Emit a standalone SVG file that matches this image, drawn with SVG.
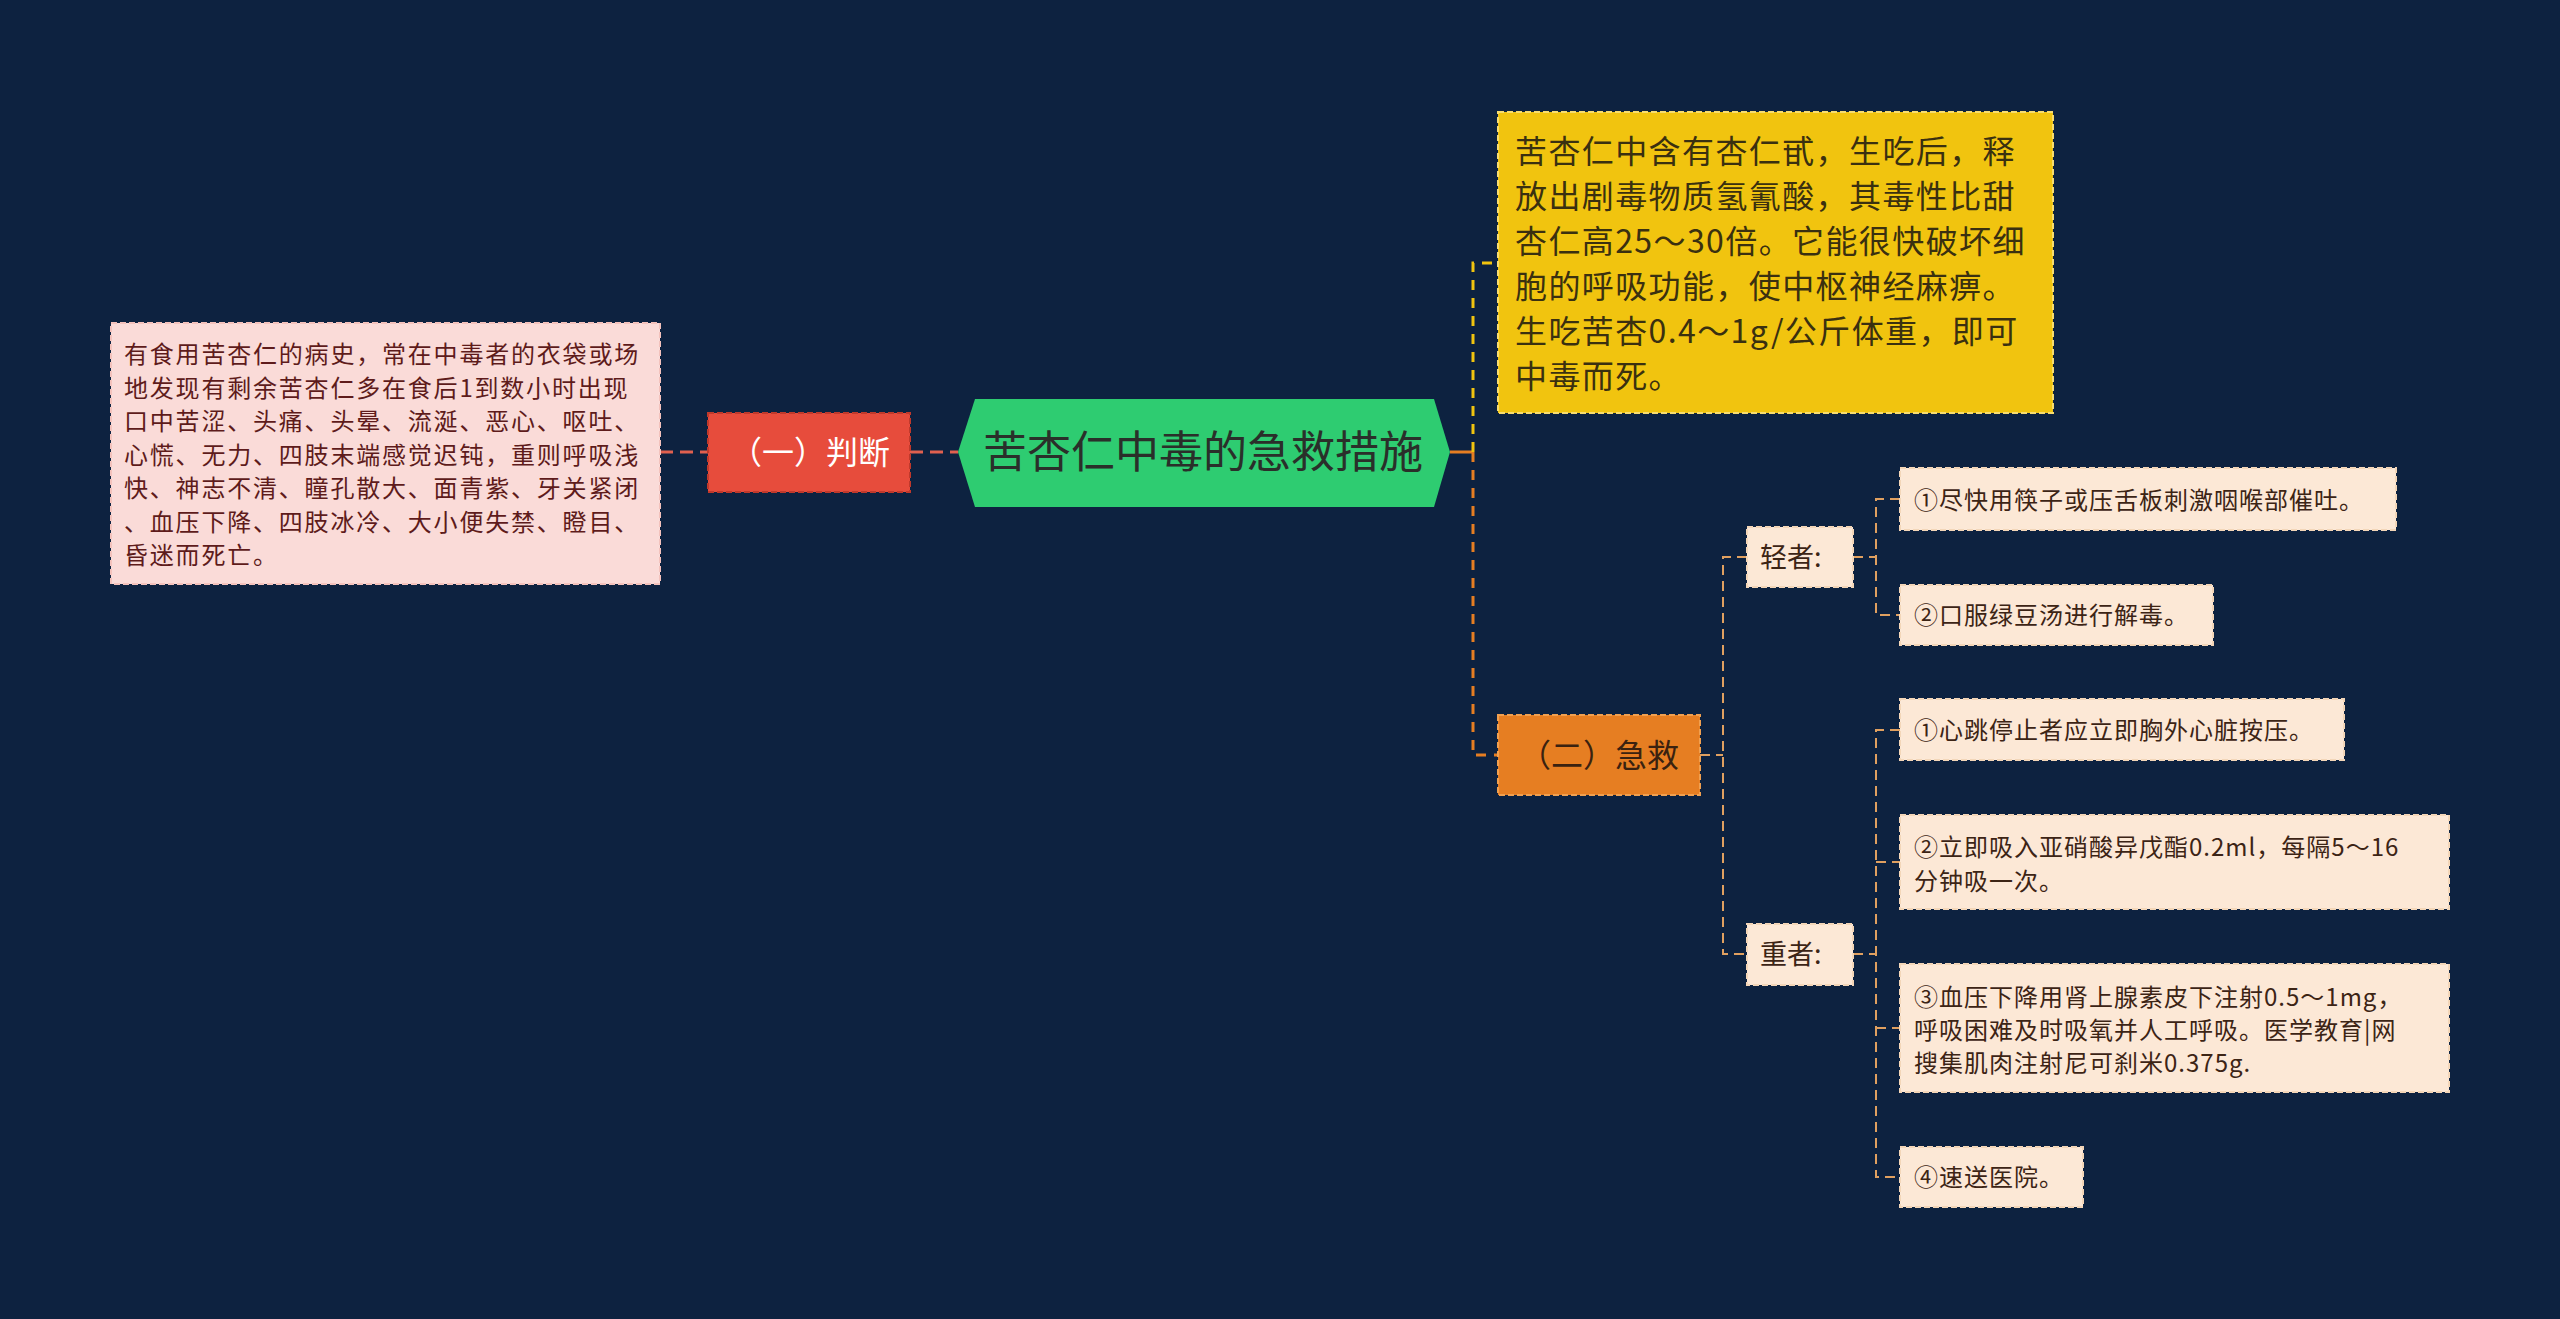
<svg xmlns="http://www.w3.org/2000/svg" width="2560" height="1319" viewBox="0 0 2560 1319">
<style>
text{font-family:"Noto Sans CJK SC","Noto Sans",sans-serif;}
.bg{fill:#0d2240;}
.pink{fill:#fadbd8;stroke:#f3c2bc;stroke-width:2;stroke-dasharray:6 3;}
.red{fill:#e74c3c;stroke:#c0392b;stroke-width:2;stroke-dasharray:6 3;}
.yel{fill:#f1c40f;stroke:#f7dc6f;stroke-width:2;stroke-dasharray:6 3;}
.org{fill:#e67e22;stroke:#f0a050;stroke-width:2;stroke-dasharray:6 3;}
.item{fill:#fce8d6;stroke:#f3d6b8;stroke-width:2;stroke-dasharray:6 3;}
.hex{fill:#2ecc71;}
.tl{font-size:24px;letter-spacing:1.8px;fill:#5e1b1b;}
.ty{font-size:32px;letter-spacing:1.4px;fill:#3a3010;}
.ti{font-size:24px;letter-spacing:1px;fill:#3c2415;}
.tk{font-size:27px;fill:#3c2415;}
.cr{fill:none;stroke:#e0604f;stroke-width:3;stroke-dasharray:13 7;}
.cy{fill:none;stroke:#f1c40f;stroke-width:3;stroke-dasharray:10 8;}
.co{fill:none;stroke:#e67e22;stroke-width:3;stroke-dasharray:10 8;}
.cs{fill:none;stroke:#e0a060;stroke-width:2;stroke-dasharray:10 6;}
</style>
<rect class="bg" x="0" y="0" width="2560" height="1319"/>
<g id="connectors">
  <path class="cr" d="M660,452 H708"/>
  <path class="cr" d="M910,452 H958"/>
  <path d="M1450,452 H1473" fill="none" stroke="#e67e22" stroke-width="3"/>
  <path class="cy" d="M1473,452 V263 H1498"/>
  <path class="co" d="M1473,452 V755 H1498"/>
  <path class="cs" d="M1700,755 H1723"/>
  <path class="cs" d="M1747,557 H1723 V954 H1747"/>
  <path class="cs" d="M1853,557 H1876"/>
  <path class="cs" d="M1900,499 H1876 V615 H1900"/>
  <path class="cs" d="M1853,954 H1876"/>
  <path class="cs" d="M1900,730 H1876 V1177 H1900"/>
  <path class="cs" d="M1876,862 H1900"/>
  <path class="cs" d="M1876,1028 H1900"/>
</g>
<g id="root">
  <polygon class="hex" points="958,452 975,399 1434,399 1450,452 1434,507 975,507"/>
  <text x="1203" y="468" font-size="44" fill="#2a2f2a" text-anchor="middle">苦杏仁中毒的急救措施</text>
</g>
<g id="judge">
  <rect class="red" x="708" y="413" width="202" height="79"/>
  <text x="810" y="464" font-size="32" fill="#ffffff" text-anchor="middle">（一）判断</text>
</g>
<g id="judge-detail">
  <rect class="pink" x="111" y="323" width="549" height="261"/>
  <text class="tl" x="124" y="363">有食用苦杏仁的病史，常在中毒者的衣袋或场</text>
  <text class="tl" x="124" y="396.5">地发现有剩余苦杏仁多在食后1到数小时出现</text>
  <text class="tl" x="124" y="430">口中苦涩、头痛、头晕、流涎、恶心、呕吐、</text>
  <text class="tl" x="124" y="463.5">心慌、无力、四肢末端感觉迟钝，重则呼吸浅</text>
  <text class="tl" x="124" y="497">快、神志不清、瞳孔散大、面青紫、牙关紧闭</text>
  <text class="tl" x="124" y="530.5">、血压下降、四肢冰冷、大小便失禁、瞪目、</text>
  <text class="tl" x="124" y="564">昏迷而死亡。</text>
</g>
<g id="cause">
  <rect class="yel" x="1498" y="112" width="555" height="301"/>
  <text class="ty" x="1515" y="163">苦杏仁中含有杏仁甙，生吃后，释</text>
  <text class="ty" x="1515" y="208">放出剧毒物质氢氰酸，其毒性比甜</text>
  <text class="ty" x="1515" y="253">杏仁高25～30倍。它能很快破坏细</text>
  <text class="ty" x="1515" y="298">胞的呼吸功能，使中枢神经麻痹。</text>
  <text class="ty" x="1515" y="343">生吃苦杏0.4～1g/公斤体重，即可</text>
  <text class="ty" x="1515" y="388">中毒而死。</text>
</g>
<g id="rescue">
  <rect class="org" x="1498" y="715" width="202" height="80"/>
  <text x="1599" y="767" font-size="32" fill="#3a2210" text-anchor="middle">（二）急救</text>
</g>
<g id="mild">
  <rect class="item" x="1747" y="527" width="106" height="60"/>
  <text class="tk" x="1760" y="567">轻者:</text>
</g>
<g id="mild-1">
  <rect class="item" x="1900" y="468" width="496" height="62"/>
  <text class="ti" x="1914" y="509">①尽快用筷子或压舌板刺激咽喉部催吐。</text>
</g>
<g id="mild-2">
  <rect class="item" x="1900" y="585" width="313" height="60"/>
  <text class="ti" x="1914" y="624">②口服绿豆汤进行解毒。</text>
</g>
<g id="severe">
  <rect class="item" x="1747" y="924" width="106" height="61"/>
  <text class="tk" x="1760" y="964">重者:</text>
</g>
<g id="severe-1">
  <rect class="item" x="1900" y="699" width="444" height="61"/>
  <text class="ti" x="1914" y="739">①心跳停止者应立即胸外心脏按压。</text>
</g>
<g id="severe-2">
  <rect class="item" x="1900" y="815" width="549" height="94"/>
  <text class="ti" x="1914" y="856">②立即吸入亚硝酸异戊酯0.2ml，每隔5～16</text>
  <text class="ti" x="1914" y="890">分钟吸一次。</text>
</g>
<g id="severe-3">
  <rect class="item" x="1900" y="964" width="549" height="128"/>
  <text class="ti" x="1914" y="1006">③血压下降用肾上腺素皮下注射0.5～1mg，</text>
  <text class="ti" x="1914" y="1039">呼吸困难及时吸氧并人工呼吸。医学教育|网</text>
  <text class="ti" x="1914" y="1072">搜集肌肉注射尼可刹米0.375g.</text>
</g>
<g id="severe-4">
  <rect class="item" x="1900" y="1147" width="183" height="60"/>
  <text class="ti" x="1914" y="1186">④速送医院。</text>
</g>
</svg>
